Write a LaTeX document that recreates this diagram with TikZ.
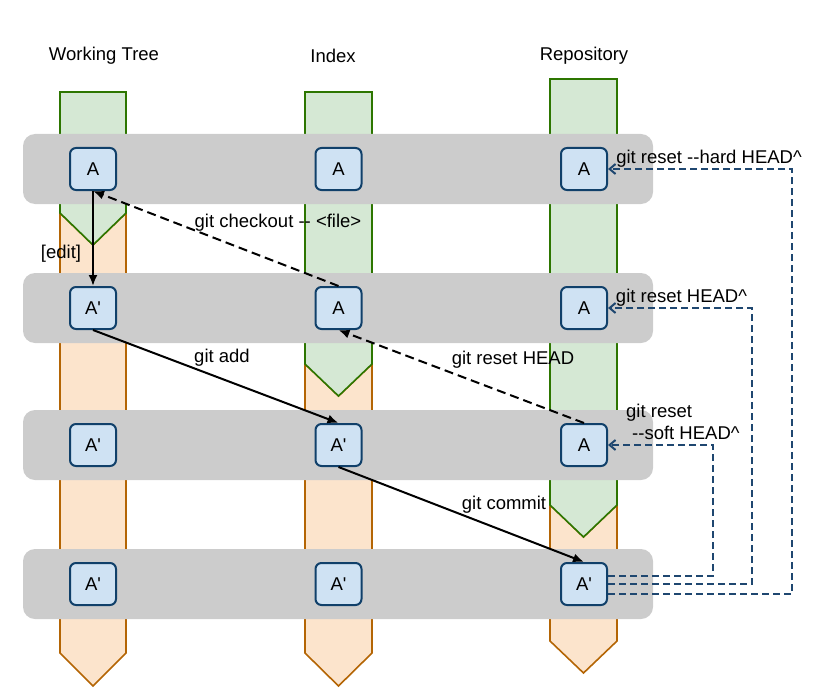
\documentclass[tikz,border=0pt]{standalone}
\usepackage{fontspec}
\setmainfont{Liberation Sans}[Ligatures=TeXOff]
\usetikzlibrary{arrows.meta}
\definecolor{grnfill}{HTML}{D5E8D4}
\definecolor{grnline}{HTML}{2D7600}
\definecolor{orgfill}{HTML}{FCE4CC}
\definecolor{orgline}{HTML}{B46504}
\definecolor{cellfill}{HTML}{CFE2F3}
\definecolor{cellline}{HTML}{10406A}
\definecolor{bandgray}{HTML}{CCCCCC}
\definecolor{resetblue}{HTML}{1F4770}

\begin{document}
\begin{tikzpicture}[x=1pt,y=-1pt,
  font=\fontsize{18.5pt}{22pt}\selectfont,
  cell/.style={draw=cellline, fill=cellfill, line width=2pt, rounded corners=6pt,
    minimum width=46pt, minimum height=42pt, inner sep=0pt},
  band/.style={fill=bandgray, rounded corners=12pt},
  move/.style={line width=2pt, -{Latex[length=11pt,width=9pt]}},
  undo/.style={move, dash pattern=on 9pt off 5pt},
  back/.style={draw=resetblue, line width=2pt, dash pattern=on 7pt off 4pt,
    -{Straight Barb[length=6pt,width=10pt]}}]
%\draw[step=50,gray,very thin] (0,0) grid (834,695);
\useasboundingbox (0,0) rectangle (834,695);
\filldraw[fill=orgfill, draw=orgline, line width=1.6pt] (60,213) -- (93,245) -- (126,213) -- (126,653) -- (93,686) -- (60,653) -- cycle;
\filldraw[fill=grnfill, draw=grnline, line width=1.6pt] (60,92) -- (126,92) -- (126,213) -- (93,245) -- (60,213) -- cycle;
\filldraw[fill=orgfill, draw=orgline, line width=1.6pt] (305,364) -- (338.5,396) -- (372,364) -- (372,653) -- (338.5,686) -- (305,653) -- cycle;
\filldraw[fill=grnfill, draw=grnline, line width=1.6pt] (305,92) -- (372,92) -- (372,364) -- (338.5,396) -- (305,364) -- cycle;
\filldraw[fill=orgfill, draw=orgline, line width=1.6pt] (550,505) -- (583.5,537) -- (617,505) -- (617,641) -- (583.5,673) -- (550,641) -- cycle;
\filldraw[fill=grnfill, draw=grnline, line width=1.6pt] (550,79) -- (617,79) -- (617,505) -- (583.5,537) -- (550,505) -- cycle;
\fill[band] (23,134) rectangle (653,204);
\fill[band] (23,273) rectangle (653,343);
\fill[band] (23,410) rectangle (653,480);
\fill[band] (23,549) rectangle (653,619);
\node (wthead) at (104,56) {Working Tree};
\node (ixhead) at (333,56) {Index};
\node (rphead) at (584,56) {Repository};
\node[cell] (wt1) at (93,169) {A};
\node[cell] (ix1) at (338.5,169) {A};
\node[cell] (rp1) at (584,169) {A};
\node[cell] (wt2) at (93,308) {A'};
\node[cell] (ix2) at (338.5,308) {A};
\node[cell] (rp2) at (584,308) {A};
\node[cell] (wt3) at (93,445) {A'};
\node[cell] (ix3) at (338.5,445) {A'};
\node[cell] (rp3) at (584,445) {A};
\node[cell] (wt4) at (93,584) {A'};
\node[cell] (ix4) at (338.5,584) {A'};
\node[cell] (rp4) at (584,584) {A'};
\coordinate (back3) at (713,445);
\coordinate (back2) at (752,308);
\coordinate (back1) at (792,169);
\draw[move] (wt1) -- (wt2);
\draw[undo] (ix2.north) -- (wt1.south);
\draw[move] (wt2.south) -- (ix3.north);
\draw[undo] (rp3.north) -- (ix2.south);
\draw[move] (ix3.south) -- (rp4.north);
\draw[back] ([yshift=8pt]rp4.east) -| (back3) -- (rp3.east);
\draw[back] (rp4.east) -| (back2) -- (rp2.east);
\draw[back] ([yshift=-10pt]rp4.east) -| (back1) -- (rp1.east);
\node (edit) at (61,254) {[edit]};
\node (checkout) at (278,223) {git checkout -- <file>};
\node (add) at (222,358) {git add};
\node (resethead) at (513,360) {git reset HEAD};
\node (commit) at (504,505) {git commit};
\node (hard) at (709,159) {git reset --hard HEAD\textasciicircum};
\node (mixed) at (681.5,298) {git reset HEAD\textasciicircum};
\node[anchor=west, align=left, inner sep=2pt] (soft) at (624,422) {git reset\\\hspace*{6pt}--soft HEAD\textasciicircum};
\end{tikzpicture}
\end{document}
